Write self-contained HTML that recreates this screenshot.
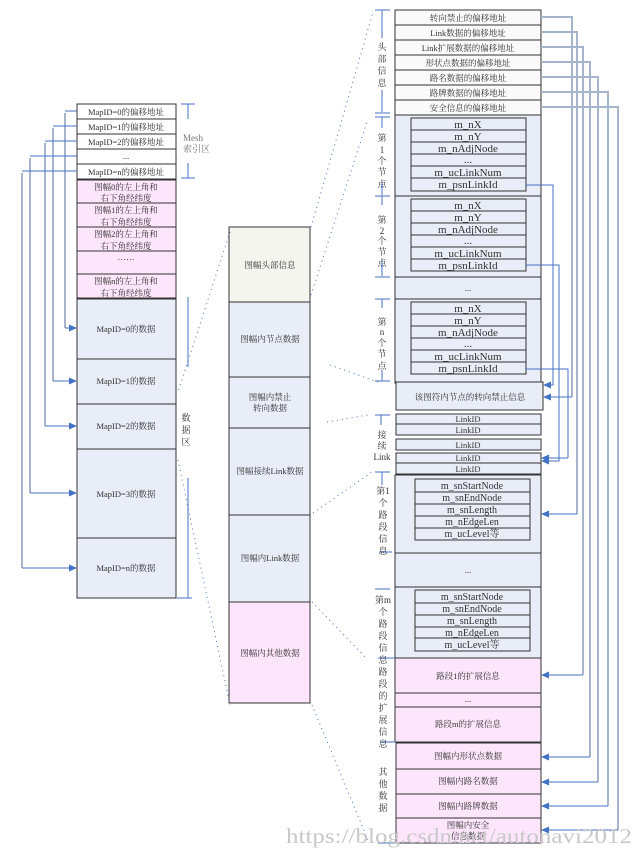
<!DOCTYPE html>
<html><head><meta charset="utf-8"><style>
html,body{margin:0;padding:0;background:#fff}
svg{display:block}
text{font-family:"Liberation Serif","Noto Serif CJK SC",serif;fill:#333}
.s{font-size:8.5px}
.m{font-size:11px}
.g{font-size:9px;fill:#777}
</style></head><body>
<svg width="643" height="855" viewBox="0 0 643 855" xmlns="http://www.w3.org/2000/svg">
<defs>
<marker id="a" markerWidth="8" markerHeight="8" refX="7" refY="4" orient="auto" markerUnits="userSpaceOnUse"><path d="M0,0.5 L8,4 L0,7.5 z" fill="#4472c4"/></marker>
</defs>

<!-- LEFT COLUMN -->
<g stroke="#333" stroke-width="1">
<rect x="77" y="104" width="99" height="75" fill="#fff"/>
<line x1="77" y1="119" x2="176" y2="119"/><line x1="77" y1="134" x2="176" y2="134"/><line x1="77" y1="149" x2="176" y2="149"/><line x1="77" y1="164" x2="176" y2="164"/>
<rect x="77" y="180" width="99" height="118" fill="#fde6fb"/>
<line x1="77" y1="203" x2="176" y2="203"/><line x1="77" y1="227" x2="176" y2="227"/><line x1="77" y1="251" x2="176" y2="251"/><line x1="77" y1="274" x2="176" y2="274"/>
<rect x="77" y="299" width="99" height="299" fill="#e8edf7"/>
<line x1="77" y1="359" x2="176" y2="359"/><line x1="77" y1="404" x2="176" y2="404"/><line x1="77" y1="449" x2="176" y2="449"/><line x1="77" y1="538" x2="176" y2="538"/>
</g>
<g class="s" text-anchor="middle">
<text x="126" y="115">MapID=0的偏移地址</text>
<text x="126" y="130">MapID=1的偏移地址</text>
<text x="126" y="145">MapID=2的偏移地址</text>
<text x="126" y="159">...</text>
<text x="126" y="175">MapID=n的偏移地址</text>
<text x="126" y="190">图幅0的左上角和</text><text x="126" y="201">右下角经纬度</text>
<text x="126" y="213">图幅1的左上角和</text><text x="126" y="225">右下角经纬度</text>
<text x="126" y="237">图幅2的左上角和</text><text x="126" y="249">右下角经纬度</text>
<text x="126" y="260">……</text>
<text x="126" y="284">图幅n的左上角和</text><text x="126" y="296">右下角经纬度</text>
<text x="126" y="332">MapID=0的数据</text>
<text x="126" y="384">MapID=1的数据</text>
<text x="126" y="429">MapID=2的数据</text>
<text x="126" y="497">MapID=3的数据</text>
<text x="126" y="571">MapID=n的数据</text>
</g>
<g fill="none" stroke="#a6b5cc" stroke-width="2">
<path d="M65,113 V328"/><path d="M53,128 V381"/><path d="M45,143 V426"/><path d="M30,158 V493"/><path d="M22,173 V568"/>
</g>
<g fill="none" stroke="#4472c4" stroke-width="1">
<path d="M77,111 H65"/><path d="M77,126 H53"/><path d="M77,141 H45"/><path d="M77,156 H30"/><path d="M77,171 H22"/>
<path d="M65,328 H76" marker-end="url(#a)"/><path d="M53,381 H76" marker-end="url(#a)"/><path d="M45,426 H76" marker-end="url(#a)"/><path d="M30,493 H76" marker-end="url(#a)"/><path d="M22,568 H76" marker-end="url(#a)"/>
</g>
<g stroke="#4472c4" stroke-width="1" fill="none">
<path d="M181,104 H195 M188,104 V119 M188,163 V178 M181,178 H195"/>
<path d="M188,297 V367 M188,478 V598 M177,598 H192"/>
</g>
<text class="g" x="183" y="141">Mesh</text><text class="g" x="183" y="152">索引区</text>
<g class="g" text-anchor="middle"><text x="186" y="421">数</text><text x="186" y="433">据</text><text x="186" y="445">区</text></g>

<!-- MIDDLE COLUMN -->
<g stroke="#333" stroke-width="1">
<rect x="229" y="227" width="81" height="75" fill="#f5f5ef"/>
<rect x="229" y="302" width="81" height="300" fill="#e8edf7"/>
<line x1="229" y1="377" x2="310" y2="377"/><line x1="229" y1="428" x2="310" y2="428"/><line x1="229" y1="515" x2="310" y2="515"/>
<rect x="229" y="602" width="81" height="101" fill="#fde6fb"/>
</g>
<g class="s" text-anchor="middle">
<text x="270" y="268">图幅头部信息</text>
<text x="270" y="342">图幅内节点数据</text>
<text x="270" y="400">图幅内禁止</text><text x="270" y="411">转向数据</text>
<text x="270" y="474">图幅接续Link数据</text>
<text x="270" y="561">图幅内Link数据</text>
<text x="270" y="656">图幅内其他数据</text>
</g>
<g stroke="#4472c4" stroke-width="1" stroke-dasharray="1,4" fill="none">
<path d="M230,232 L178,392"/><path d="M178,460 L230,705"/>
<path d="M311,227 L373,12"/><path d="M311,295 L367,122"/>
<path d="M330,365 L378,382"/><path d="M327,422 L368,415"/>
<path d="M313,513 L372,472"/><path d="M312,602 L366,658"/>
<path d="M312,705 L368,840"/>
</g>

<!-- RIGHT COLUMN -->
<g stroke="#333" stroke-width="1">
<rect x="395" y="10" width="146" height="105" fill="#fafafa"/>
<line x1="395" y1="25" x2="541" y2="25"/><line x1="395" y1="40" x2="541" y2="40"/><line x1="395" y1="55" x2="541" y2="55"/><line x1="395" y1="70" x2="541" y2="70"/><line x1="395" y1="85" x2="541" y2="85"/><line x1="395" y1="100" x2="541" y2="100"/>
<rect x="395" y="115" width="146" height="268" fill="#e8edf7"/>
<line x1="395" y1="196" x2="541" y2="196"/><line x1="395" y1="277" x2="541" y2="277"/><line x1="395" y1="299" x2="541" y2="299"/>
<rect x="411" y="118" width="115" height="73" fill="#e8edf7"/>
<line x1="411" y1="130" x2="526" y2="130"/><line x1="411" y1="142" x2="526" y2="142"/><line x1="411" y1="154" x2="526" y2="154"/><line x1="411" y1="166" x2="526" y2="166"/><line x1="411" y1="178" x2="526" y2="178"/>
<rect x="411" y="199" width="115" height="72" fill="#e8edf7"/>
<line x1="411" y1="211" x2="526" y2="211"/><line x1="411" y1="223" x2="526" y2="223"/><line x1="411" y1="235" x2="526" y2="235"/><line x1="411" y1="247" x2="526" y2="247"/><line x1="411" y1="259" x2="526" y2="259"/>
<rect x="411" y="302" width="115" height="72" fill="#e8edf7"/>
<line x1="411" y1="314" x2="526" y2="314"/><line x1="411" y1="326" x2="526" y2="326"/><line x1="411" y1="338" x2="526" y2="338"/><line x1="411" y1="350" x2="526" y2="350"/><line x1="411" y1="362" x2="526" y2="362"/>
<rect x="396" y="382" width="147" height="28" fill="#e8edf7"/>
<rect x="396" y="414" width="145" height="21" fill="#e8edf7"/><line x1="396" y1="424" x2="541" y2="424"/>
<rect x="396" y="439" width="145" height="11" fill="#e8edf7"/>
<rect x="396" y="453" width="145" height="21" fill="#e8edf7"/><line x1="396" y1="463" x2="541" y2="463"/>
<rect x="395" y="475" width="146" height="183" fill="#e8edf7"/>
<line x1="395" y1="553" x2="541" y2="553"/><line x1="395" y1="587" x2="541" y2="587"/>
<rect x="415" y="479" width="115" height="61" fill="#e8edf7"/>
<line x1="415" y1="492" x2="530" y2="492"/><line x1="415" y1="504" x2="530" y2="504"/><line x1="415" y1="516" x2="530" y2="516"/><line x1="415" y1="528" x2="530" y2="528"/>
<rect x="415" y="590" width="115" height="61" fill="#e8edf7"/>
<line x1="415" y1="603" x2="530" y2="603"/><line x1="415" y1="615" x2="530" y2="615"/><line x1="415" y1="627" x2="530" y2="627"/><line x1="415" y1="638" x2="530" y2="638"/>
<rect x="395" y="658" width="146" height="84" fill="#fde6fb"/>
<line x1="395" y1="693" x2="541" y2="693"/><line x1="395" y1="707" x2="541" y2="707"/>
<rect x="396" y="743" width="145" height="100" fill="#fde6fb"/>
<line x1="396" y1="769" x2="541" y2="769"/><line x1="396" y1="794" x2="541" y2="794"/><line x1="396" y1="818" x2="541" y2="818"/>
</g>
<g class="s" text-anchor="middle">
<text x="468" y="21">转向禁止的偏移地址</text>
<text x="468" y="36">Link数据的偏移地址</text>
<text x="468" y="51">Link扩展数据的偏移地址</text>
<text x="468" y="66">形状点数据的偏移地址</text>
<text x="468" y="81">路名数据的偏移地址</text>
<text x="468" y="96">路牌数据的偏移地址</text>
<text x="468" y="111">安全信息的偏移地址</text>
<text x="468" y="291">...</text>
<text x="470" y="400">该图符内节点的转向禁止信息</text>
<text x="468" y="422">LinkID</text><text x="468" y="433">LinkID</text>
<text x="468" y="448">LinkID</text>
<text x="468" y="461">LinkID</text><text x="468" y="472">LinkID</text>
<text x="468" y="573">...</text>
<text x="468" y="679">路段1的扩展信息</text>
<text x="468" y="702">...</text>
<text x="468" y="727">路段m的扩展信息</text>
<text x="468" y="759">图幅内形状点数据</text>
<text x="468" y="784">图幅内路名数据</text>
<text x="468" y="809">图幅内路牌数据</text>
<text x="468" y="828">图幅内安全</text><text x="468" y="839">信息数据</text>
</g>
<g class="m" text-anchor="middle">
<text x="468" y="128">m_nX</text><text x="468" y="140">m_nY</text><text x="468" y="152">m_nAdjNode</text><text x="468" y="163">...</text><text x="468" y="176">m_ucLinkNum</text><text x="468" y="188">m_psnLinkId</text>
<text x="468" y="209">m_nX</text><text x="468" y="221">m_nY</text><text x="468" y="233">m_nAdjNode</text><text x="468" y="244">...</text><text x="468" y="257">m_ucLinkNum</text><text x="468" y="269">m_psnLinkId</text>
<text x="468" y="312">m_nX</text><text x="468" y="324">m_nY</text><text x="468" y="336">m_nAdjNode</text><text x="468" y="347">...</text><text x="468" y="360">m_ucLinkNum</text><text x="468" y="372">m_psnLinkId</text>
</g>
<g text-anchor="middle" style="font-size:10px">
<text x="472" y="489">m_snStartNode</text><text x="472" y="501">m_snEndNode</text><text x="472" y="513">m_snLength</text><text x="472" y="525">m_nEdgeLen</text><text x="472" y="537">m_ucLevel等</text>
<text x="472" y="600">m_snStartNode</text><text x="472" y="612">m_snEndNode</text><text x="472" y="624">m_snLength</text><text x="472" y="636">m_nEdgeLen</text><text x="472" y="648">m_ucLevel等</text>
</g>

<g fill="none" stroke="#a6b5cc" stroke-width="2">
<path d="M541,17 H572 V397"/><path d="M541,32 H577 V514"/><path d="M541,47 H583 V675"/><path d="M541,62 H590 V757"/><path d="M541,77 H598 V782"/><path d="M541,92 H608 V806"/><path d="M541,107 H618 V830"/>
</g>
<g fill="none" stroke="#4472c4" stroke-width="1">
<path d="M526,185 H553 V385 H544" marker-end="url(#a)"/>
<path d="M526,265 H559 V461 H542" marker-end="url(#a)"/>
<path d="M526,369 H568 V458"/>
<path d="M568,458 H542" marker-end="url(#a)"/>
<path d="M572,397 H544" marker-end="url(#a)"/>
<path d="M577,514 H542" marker-end="url(#a)"/>
<path d="M583,675 H542" marker-end="url(#a)"/>
<path d="M590,757 H542" marker-end="url(#a)"/>
<path d="M598,782 H542" marker-end="url(#a)"/>
<path d="M608,806 H542" marker-end="url(#a)"/>
<path d="M618,830 H542" marker-end="url(#a)"/>
</g>

<g stroke="#4472c4" stroke-width="1" fill="none">
<path d="M375,10 H390 M382,10 V38 M382,90 V112 M375,113 H390"/>
<path d="M375,117 H390 M382,117 V128 M382,182 V195 M375,196 H390"/>
<path d="M382,196 V205 M382,260 V276 M375,277 H390"/>
<path d="M375,299 H390 M382,299 V308 M382,370 V381 M375,381 H390"/>
<path d="M375,415 H390 M381,415 V425"/>
<path d="M375,472 H390 M382,472 V485"/>
<path d="M379,552 H392"/>
<path d="M375,589 H390"/>
<path d="M378,658 H395"/>
<path d="M381,742 H396"/>
<path d="M378,843 H395"/>
</g>
<g class="g" text-anchor="middle">
<text x="382" y="50">头</text><text x="382" y="62">部</text><text x="382" y="74">信</text><text x="382" y="86">息</text>
<text x="382" y="141">第</text><text x="382" y="153">1</text><text x="382" y="164">个</text><text x="382" y="175">节</text><text x="382" y="187">点</text>
<text x="382" y="223">第</text><text x="382" y="234">2</text><text x="382" y="244">个</text><text x="382" y="255">节</text><text x="382" y="266">点</text>
<text x="382" y="325">第</text><text x="382" y="335">n</text><text x="382" y="346">个</text><text x="382" y="357">节</text><text x="382" y="369">点</text>
<text x="382" y="438">接</text><text x="382" y="449">续</text><text x="382" y="460">Link</text>
<text x="383" y="494">第1</text><text x="383" y="506">个</text><text x="383" y="518">路</text><text x="383" y="530">段</text><text x="383" y="542">信</text><text x="383" y="554">息</text>
<text x="383" y="603">第m</text><text x="383" y="615">个</text><text x="383" y="627">路</text><text x="383" y="639">段</text><text x="383" y="651">信</text><text x="383" y="663">息</text>
<text x="383" y="675">路</text><text x="383" y="687">段</text><text x="383" y="699">的</text><text x="383" y="711">扩</text><text x="383" y="723">展</text><text x="383" y="735">信</text><text x="383" y="747">息</text>
<text x="383" y="775">其</text><text x="383" y="787">他</text><text x="383" y="799">数</text><text x="383" y="811">据</text>
</g>

<text x="286" y="843" textLength="346" lengthAdjust="spacingAndGlyphs" style="font-size:21px;fill:#c8c8c8;font-family:'Liberation Serif',serif">https://blog.csdn.net/autonavi2012</text>
</svg>
</body></html>
